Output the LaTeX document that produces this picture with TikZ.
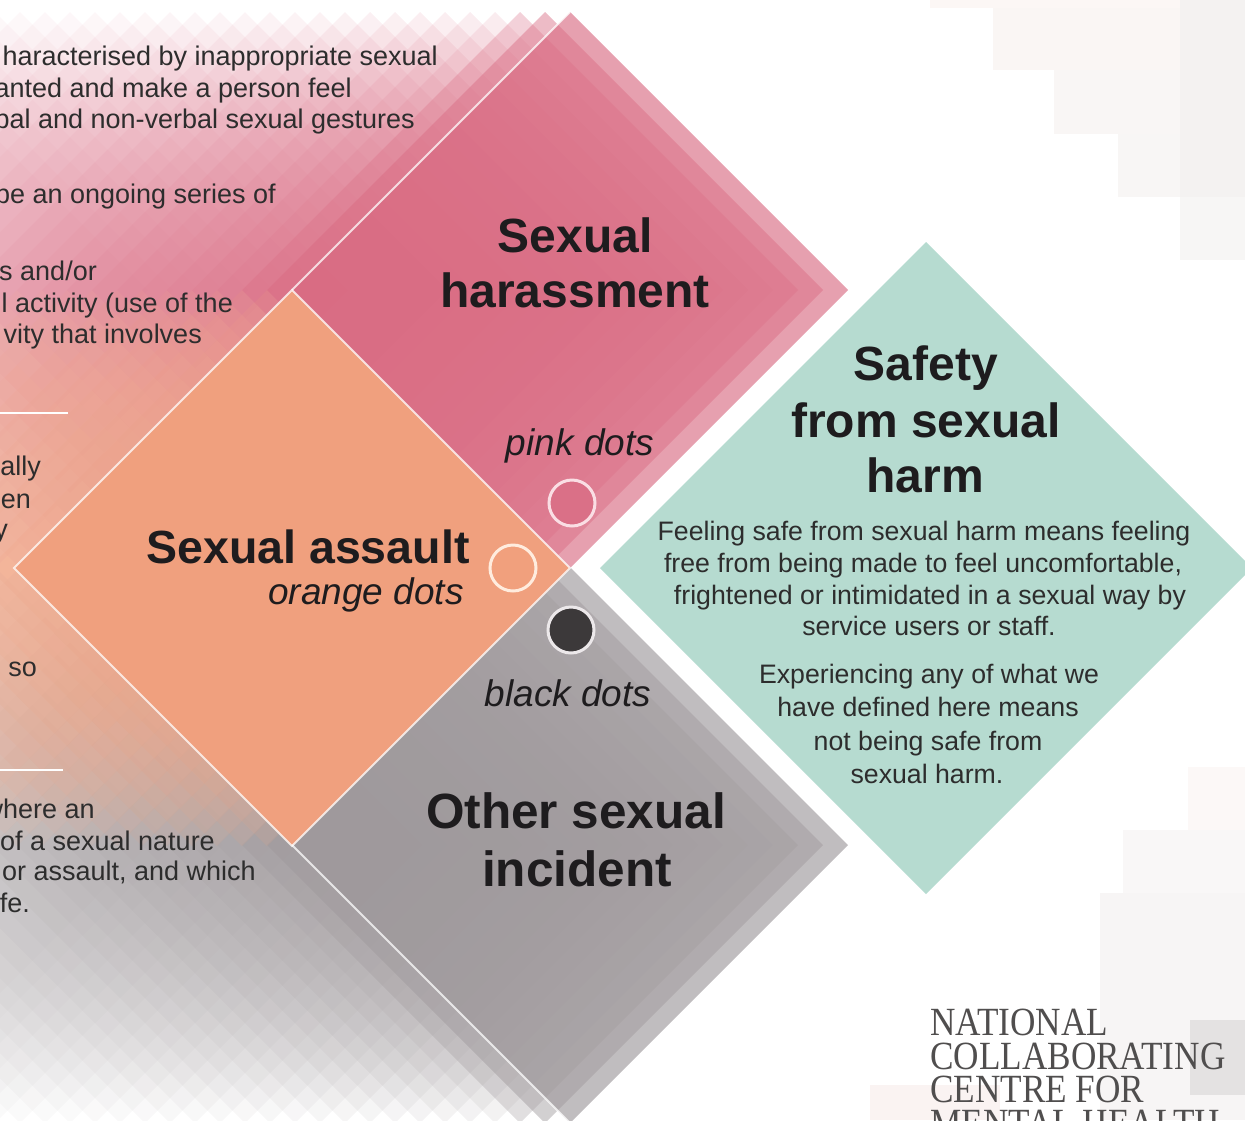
\documentclass[tikz,border=0pt]{standalone}
\usepackage{fontspec}
\usepackage{graphicx}
\setmainfont{Liberation Sans}
\newfontfamily\logofont{Liberation Serif}
\definecolor{pinkc}{RGB}{216,104,128}
\definecolor{orangec}{RGB}{240,160,126}
\definecolor{grayc}{RGB}{156,150,153}
\definecolor{greenc}{RGB}{182,219,208}
\definecolor{titletxt}{RGB}{30,28,30}
\definecolor{bodytxt}{RGB}{45,45,45}
\definecolor{logotxt}{RGB}{80,78,78}
\tikzset{
  title/.style={inner sep=0pt, anchor=base, text=titletxt, font=\fontsize{48}{56}\selectfont\bfseries},
  dotlabel/.style={inner sep=0pt, anchor=base, text=titletxt, font=\fontsize{37}{42}\selectfont\itshape},
  bodyr/.style={inner sep=0pt, anchor=base east, text=bodytxt, font=\fontsize{27}{32}\selectfont},
  greentxt/.style={inner sep=0pt, anchor=base, text=bodytxt, font=\fontsize{26.7}{32}\selectfont},
  logo/.style={inner sep=0pt, anchor=base west, align=left, text=logotxt, font=\fontsize{40}{33.5}\logofont},
  outl/.style={draw=white, draw opacity=0.75, line width=2pt},
  dotc/.style={circle, minimum size=46pt, inner sep=0pt, line width=3pt},
  faint/.style={draw=none},
}
\newcommand\trailop[1]{%
  \ifnum#1=1 \def\op{0.45}\else
  \ifnum#1=2 \def\op{0.30}\else
  \pgfmathsetmacro\op{0.14*0.95^(#1-1)}\fi\fi}
\begin{document}
\begin{tikzpicture}[x=1pt,y=-1pt]
\useasboundingbox (0,0) rectangle (1245,1120);
\clip (0,0) rectangle (1245,1120);
% faint background squares, top right
\fill[faint, fill={rgb,255:red,252;green,247;blue,245}] (930,0) rectangle (1245,8);
\fill[faint, fill={rgb,255:red,250;green,246;blue,244}] (993,8) rectangle (1245,70);
\fill[faint, fill={rgb,255:red,249;green,246;blue,245}] (1054,70) rectangle (1245,134);
\fill[faint, fill={rgb,255:red,248;green,246;blue,245}] (1118,134) rectangle (1245,197);
\fill[faint, fill={rgb,255:red,247;green,246;blue,245}] (1180,197) rectangle (1245,260);
\fill[faint, fill={rgb,255:red,244;green,242;blue,241}] (1180,0) rectangle (1245,197);
% faint background squares, bottom right
\fill[faint, fill={rgb,255:red,252;green,248;blue,247}] (1188,767) rectangle (1245,1120);
\fill[faint, fill={rgb,255:red,249;green,247;blue,247}] (1123,830) rectangle (1245,1120);
\fill[faint, fill={rgb,255:red,247;green,245;blue,245}] (1100,893) rectangle (1245,1120);
\fill[faint, fill={rgb,255:red,250;green,243;blue,242}] (870,1085) rectangle (1000,1120);
\fill[faint, fill={rgb,255:red,228;green,226;blue,226}] (1190,1020) rectangle (1245,1095);
% pink trail copies
\foreach \i in {1,...,28}{
  \trailop{\i}
  \fill[pinkc, fill opacity=\op] ({570-25*\i},12) -- ({848-25*\i},290) -- ({570-25*\i},568) -- ({292-25*\i},290) -- cycle;
}
\fill[pinkc, fill opacity=0.63] (570,12) -- (848,290) -- (570,568) -- (292,290) -- cycle;
% gray trail copies
\foreach \i in {1,...,28}{
  \trailop{\i}
  \fill[grayc, fill opacity=\op] ({570-25*\i},567) -- ({848-25*\i},845) -- ({570-25*\i},1123) -- ({292-25*\i},845) -- cycle;
}
\fill[grayc, fill opacity=0.63] (570,567) -- (848,845) -- (570,1123) -- (292,845) -- cycle;
% orange trail copies
\foreach \i in {1,...,14}{
  \pgfmathsetmacro\op{0.14*0.95^(\i-1)}
  \fill[orangec, fill opacity=\op] ({292-25*\i},290) -- ({570-25*\i},568) -- ({292-25*\i},846) -- ({14-25*\i},568) -- cycle;
}
\fill[orangec] (292,290) -- (570,568) -- (292,846) -- (14,568) -- cycle;
% light outlines
\draw[outl] (292,290) -- (570,568) -- (292,846) -- (14,568) -- cycle;
\draw[outl] (292,290) -- (570,12);
\draw[outl] (292,845) -- (570,1123);
% green diamond
\fill[greenc] (926,242) -- (1252,568) -- (926,894) -- (600,568) -- cycle;
% separators of the left column
\draw[white, line width=2.5pt] (0,413) -- (68,413);
\draw[white, line width=2.5pt] (0,770) -- (63,770);
% left column text (cropped)
\node[bodyr] (l1) at (438,65) {haracterised by inappropriate sexual};
\node[bodyr] (l2) at (352,97) {anted and make a person feel};
\node[bodyr] (l3) at (415,128) {bal and non-verbal sexual gestures};
\node[bodyr] (l4) at (276,203) {be an ongoing series of};
\node[bodyr] (l5) at (97,280) {s and/or};
\node[bodyr] (l6) at (233,312) {l activity (use of the};
\node[bodyr] (l7) at (202,343) {vity that involves};
\node[bodyr] (l8) at (41,475) {cally};
\node[bodyr] (l9) at (31,508) {hen};
\node[bodyr] (l10) at (8,538) {y};
\node[bodyr] (l11) at (37,676) {, so};
\node[bodyr] (l12) at (95,818) {where an};
\node[bodyr] (l13) at (215,850) {of a sexual nature};
\node[bodyr] (l14) at (256,880) {or assault, and which};
\node[bodyr] (l15) at (30,912) {fe.};
% titles
\node[title] (sh1) at (575,252) {Sexual};
\node[title] (sh2) at (575,307) {harassment};
\node[dotlabel] (pd) at (580,455) {pink dots};
\node[title, font=\fontsize{46.5}{56}\selectfont\bfseries] (sa) at (308,563) {Sexual assault};
\node[dotlabel, anchor=base east] (od) at (464,604) {orange dots};
\node[dotlabel] (bd) at (568,706) {black dots};
\node[title, font=\fontsize{49.5}{56}\selectfont\bfseries] (os1) at (576,828) {Other sexual};
\node[title, font=\fontsize{49.5}{56}\selectfont\bfseries] (os2) at (577,886) {incident};
\node[title] (sf1) at (926,380) {Safety};
\node[title] (sf2) at (926,437) {from sexual};
\node[title] (sf3) at (925,492) {harm};
% green description
\node[greentxt] (g1) at (924,540) {Feeling safe from sexual harm means feeling};
\node[greentxt] (g2) at (923,572) {free from being made to feel uncomfortable,};
\node[greentxt] (g3) at (930,604) {frightened or intimidated in a sexual way by};
\node[greentxt] (g4) at (929,635) {service users or staff.};
\node[greentxt] (g5) at (929,683) {Experiencing any of what we};
\node[greentxt] (g6) at (928,716) {have defined here means};
\node[greentxt] (g7) at (928,750) {not being safe from};
\node[greentxt] (g8) at (927,783) {sexual harm.};
% dots
\node[dotc, fill={rgb,255:red,218;green,112;blue,135}, draw={rgb,255:red,250;green,222;blue,228}] (pinkdot) at (572,503) {};
\node[dotc, fill={rgb,255:red,241;green,160;blue,125}, draw={rgb,255:red,255;green,236;blue,222}] (orangedot) at (513,568) {};
\node[dotc, fill={rgb,255:red,60;green,57;blue,58}, draw={rgb,255:red,236;green,232;blue,234}] (blackdot) at (571,630) {};
% logo
\node[logo, anchor=north west] (logo) at (930,1009) {\scalebox{0.88}[1]{NATIONAL}\\\scalebox{0.88}[1]{COLLABORATING}\\\scalebox{0.88}[1]{CENTRE FOR}\\\scalebox{0.88}[1]{MENTAL HEALTH}};
\end{tikzpicture}
\end{document}
